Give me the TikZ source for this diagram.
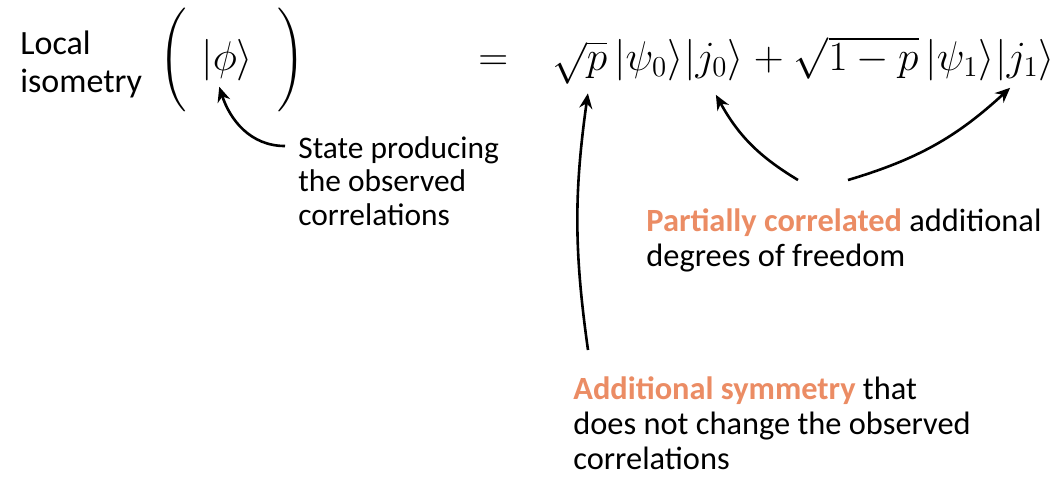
\documentclass[tikz,border=0pt]{standalone}
\usepackage{fontspec}
\setmainfont{Carlito}
\usepackage{amsmath}
\usetikzlibrary{arrows.meta,positioning}
\definecolor{salmon}{RGB}{235,140,100}
\newcommand{\hilite}[1]{\textcolor{salmon}{\textbf{#1}}}

\begin{document}
\begin{tikzpicture}[
  x=0.5pt, y=-0.5pt,
  txt/.style={align=left, inner sep=0pt, anchor=north west,
              font=\fontsize{16.2}{17.5}\selectfont},
  mth/.style={inner sep=0pt, font=\fontsize{21}{25}\selectfont},
  paren/.style={inner sep=0pt, font=\fontsize{16.5}{20}\selectfont},
  arr/.style={-{Stealth[length=7.5pt,width=6.5pt]}, line width=1.3pt},
]
\useasboundingbox (0,0) rectangle (1052,479);

% left hand side
\node[txt, font=\fontsize{17}{19}\selectfont] (iso) at (20,30) {Local\\isometry};
\node[mth, anchor=base west] (phi) at (201,70) {$|\phi\rangle$};
\node[paren, left=7pt of phi] (lpar) {$\Bigg($};
\node[paren, right=12pt of phi] (rpar) {$\Bigg)$};
\node[mth, anchor=base west] (eq) at (478,70) {$=$};

% right hand side
\node[mth, anchor=base west] (sqp) at (552,70) {$\sqrt{p}$};
\node[mth, base right=3pt of sqp] (psi0) {$|\psi_0\rangle$};
\node[mth, base right=0pt of psi0] (j0) {$|j_0\rangle$};
\node[mth, base right=4.7pt of j0] (plus) {$+$};
\node[mth, base right=4.7pt of plus] (sq1p) {$\sqrt{1-p}$};
\node[mth, base right=3pt of sq1p] (psi1) {$|\psi_1\rangle$};
\node[mth, base right=0pt of psi1] (j1) {$|j_1\rangle$};

% labels
\node[txt, font=\fontsize{15.7}{16.8}\selectfont] (state) at (298,136) {State producing\\the observed\\correlations};
\node[txt] (partial) at (646,208) {\hilite{Partially correlated} additional\\degrees of freedom};
\node[txt] (addsym) at (573,376) {\hilite{Additional symmetry} that\\does not change the observed\\correlations};

\draw[arr] ([shift={(-6.5pt,-5pt)}]state.north west) to[out=180,in=-72] ([shift={(-4pt,-3pt)}]phi.south);
\draw[arr] ([shift={(7.5pt,13pt)}]addsym.north west) to[bend left=8] ([shift={(4pt,-4.5pt)}]sqp.south);
\draw[arr] ([shift={(76pt,14pt)}]partial.north west) to[bend left=15] ([shift={(1pt,-7pt)}]j0.south);
\draw[arr] ([shift={(101pt,14pt)}]partial.north west) to[bend right=13] ([shift={(-7.5pt,-3.5pt)}]j1.south);
\end{tikzpicture}
\end{document}
